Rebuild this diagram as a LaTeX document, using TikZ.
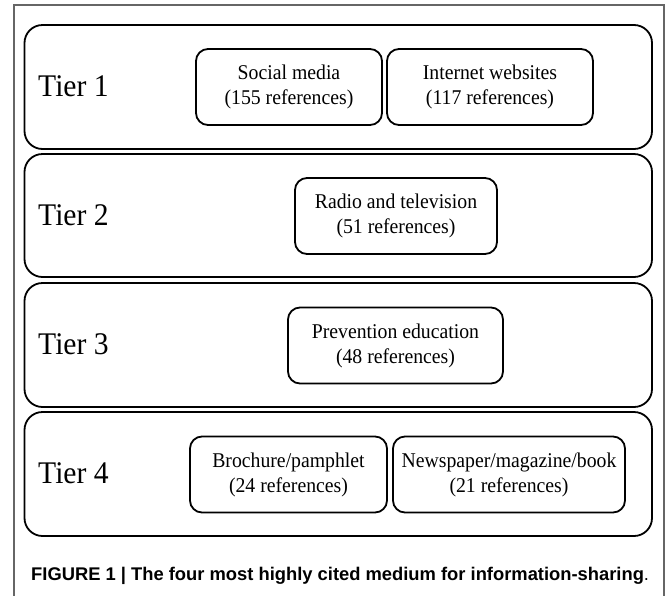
\documentclass[tikz,border=0pt]{standalone}
\usepackage{fontspec}
\setmainfont{Liberation Serif}[FakeStretch=0.94]
\newfontfamily\capfont{Liberation Sans}
\begin{document}
\begin{tikzpicture}[x=1pt,y=-1pt,
  tierbox/.style={draw=black,line width=1.8pt,rounded corners=18pt,minimum height=124pt,minimum width=627.5pt,inner sep=0pt},
  medbox/.style={draw=black,line width=1.8pt,rounded corners=12pt,minimum height=76pt,inner sep=0pt,align=center,font=\fontsize{21}{25}\selectfont},
  tierlabel/.style={anchor=base west,inner sep=0pt,font=\fontsize{31.5}{36}\selectfont}]
\useasboundingbox (0,0) rectangle (669,595);
\draw[gray!80!black,line width=1.2pt] (14,600) -- (14,5) -- (664,5) -- (664,600);
% tiers
\node[tierbox] (t1) at (338.25,87) {};
\node[tierbox,minimum height=123pt] (t2) at (338.25,215.5) {};
\node[tierbox] (t3) at (338.25,345) {};
\node[tierbox] (t4) at (338.25,474) {};
\node[tierlabel] (l1) at (38,96.5) {Tier 1};
\node[tierlabel] (l2) at (38,225) {Tier 2};
\node[tierlabel] (l3) at (38,354.5) {Tier 3};
\node[tierlabel] (l4) at (38,483.5) {Tier 4};
% media
\node[medbox,minimum width=186pt] (sm) at (289,87) {Social media\\(155 references)};
\node[medbox,minimum width=206pt] (iw) at (490,87) {Internet websites\\(117 references)};
\node[medbox,minimum width=202pt] (rt) at (396,216) {Radio and television\\(51 references)};
\node[medbox,minimum width=215pt] (pe) at (395.5,345.5) {Prevention education\\(48 references)};
\node[medbox,minimum width=197pt] (bp) at (288.5,474.5) {Brochure/pamphlet\\(24 references)};
\node[medbox,minimum width=232pt] (nm) at (509,474.5) {Newspaper/magazine/book\\(21 references)};
% caption
\node[anchor=base west,inner sep=0pt,font=\capfont\fontsize{18.35}{22}\selectfont] (cap) at (31,580)
  {\textbf{FIGURE 1 | The four most highly cited medium for information-sharing}.};
\end{tikzpicture}
\end{document}
